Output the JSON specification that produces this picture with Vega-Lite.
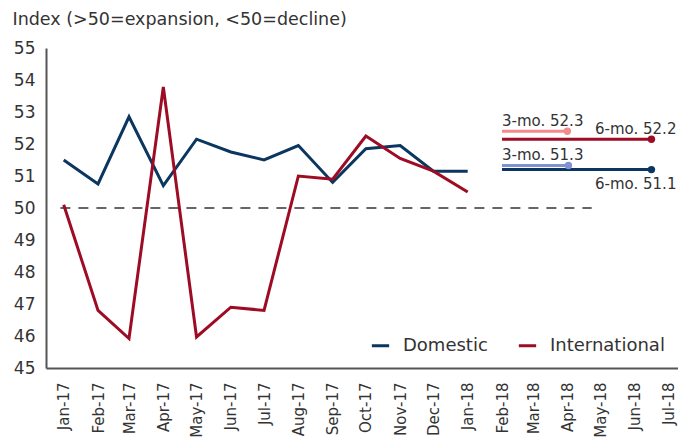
{
  "$schema": "https://vega.github.io/schema/vega-lite/v6.json",
  "width": 632,
  "height": 320,
  "autosize": "none",
  "padding": {"left": 46, "top": 48, "right": 0, "bottom": 72},
  "background": "white",
  "config": {
    "view": {"stroke": null},
    "font": "DejaVu Sans",
    "axis": {"grid": false, "ticks": false, "domainColor": "#555555", "domainWidth": 2, "labelColor": "#333333", "labelFontSize": 16, "labelFont": "DejaVu Sans"}
  },
  "datasets": {
    "series": [
      {"month": "2017-01-01", "series": "Domestic", "value": 51.5},
      {"month": "2017-02-01", "series": "Domestic", "value": 50.75},
      {"month": "2017-03-01", "series": "Domestic", "value": 52.85},
      {"month": "2017-04-01", "series": "Domestic", "value": 50.7},
      {"month": "2017-05-01", "series": "Domestic", "value": 52.15},
      {"month": "2017-06-01", "series": "Domestic", "value": 51.75},
      {"month": "2017-07-01", "series": "Domestic", "value": 51.5},
      {"month": "2017-08-01", "series": "Domestic", "value": 51.95},
      {"month": "2017-09-01", "series": "Domestic", "value": 50.8},
      {"month": "2017-10-01", "series": "Domestic", "value": 51.85},
      {"month": "2017-11-01", "series": "Domestic", "value": 51.95},
      {"month": "2017-12-01", "series": "Domestic", "value": 51.15},
      {"month": "2018-01-01", "series": "Domestic", "value": 51.15},
      {"month": "2017-01-01", "series": "International", "value": 50.1},
      {"month": "2017-02-01", "series": "International", "value": 46.8},
      {"month": "2017-03-01", "series": "International", "value": 45.92},
      {"month": "2017-04-01", "series": "International", "value": 53.78},
      {"month": "2017-05-01", "series": "International", "value": 45.97},
      {"month": "2017-06-01", "series": "International", "value": 46.9},
      {"month": "2017-07-01", "series": "International", "value": 46.8},
      {"month": "2017-08-01", "series": "International", "value": 51.0},
      {"month": "2017-09-01", "series": "International", "value": 50.9},
      {"month": "2017-10-01", "series": "International", "value": 52.25},
      {"month": "2017-11-01", "series": "International", "value": 51.55},
      {"month": "2017-12-01", "series": "International", "value": 51.15},
      {"month": "2018-01-01", "series": "International", "value": 50.5}
    ],
    "reference": [
      {"start": "2016-12-29", "end": "2018-04-23", "value": 50}
    ],
    "averages": [
      {"key": "3-mo Intl", "label": "3-mo. 52.3", "start": "2018-02-01", "end": "2018-04-01", "value": 52.4},
      {"key": "6-mo Intl", "label": "6-mo. 52.2", "start": "2018-02-01", "end": "2018-06-16", "value": 52.15},
      {"key": "3-mo Dom", "label": "3-mo. 51.3", "start": "2018-02-01", "end": "2018-04-02", "value": 51.33},
      {"key": "6-mo Dom", "label": "6-mo. 51.1", "start": "2018-02-01", "end": "2018-06-16", "value": 51.2}
    ]
  },
  "layer": [
    {
      "data": {"name": "reference"},
      "mark": {"type": "rule", "strokeDash": [10, 8], "strokeWidth": 1.5, "color": "#333333"},
      "encoding": {
        "x": {
          "field": "start", "type": "temporal",
          "scale": {"type": "utc", "domain": [{"year": 2016, "month": 12, "date": 16, "utc": true}, {"year": 2018, "month": 7, "date": 10, "utc": true}]},
          "axis": {"title": null, "format": "%b-%y", "labelAngle": 270, "labelPadding": 14, "labelFontSize": 15, "labelOverlap": false, "tickCount": {"interval": "month", "step": 1}}
        },
        "x2": {"field": "end"},
        "y": {
          "field": "value", "type": "quantitative",
          "scale": {"domain": [45, 55], "nice": false, "zero": false},
          "axis": {"tickCount": 11, "format": "d", "labelOverlap": false, "labelBound": false, "labelFontSize": 17, "labelPadding": 11, "title": "Index (>50=expansion, <50=decline)", "titleAngle": 0, "titleAlign": "left", "titleBaseline": "alphabetic", "titleX": -34, "titleY": -24, "titleFontSize": 17.5, "titleFontWeight": "normal", "titleColor": "#333333", "titleFont": "DejaVu Sans"}
        }
      }
    },
    {
      "data": {"name": "series"},
      "mark": {"type": "line", "strokeWidth": 3, "strokeJoin": "miter"},
      "encoding": {
        "x": {"field": "month", "type": "temporal"},
        "y": {"field": "value", "type": "quantitative"},
        "color": {
          "field": "series", "type": "nominal",
          "scale": {"domain": ["Domestic", "International"], "range": ["#0b3660", "#9e0b24"]},
          "legend": {"title": null, "orient": "none", "legendX": 324, "legendY": 287, "direction": "horizontal", "symbolType": "stroke", "symbolStrokeWidth": 3, "symbolSize": 300, "labelFontSize": 18, "labelColor": "#333333", "labelFont": "DejaVu Sans", "columnPadding": 24, "labelOffset": 12}
        }
      }
    },
    {
      "data": {"name": "averages"},
      "mark": {"type": "rule", "strokeWidth": 3},
      "encoding": {
        "x": {"field": "start", "type": "temporal"},
        "x2": {"field": "end"},
        "y": {"field": "value", "type": "quantitative"},
        "stroke": {"field": "key", "type": "nominal", "legend": null,
          "scale": {"domain": ["3-mo Intl", "6-mo Intl", "3-mo Dom", "6-mo Dom"], "range": ["#f28b8b", "#9e0b24", "#7e93d0", "#0b3660"]}}
      }
    },
    {
      "data": {"name": "averages"},
      "mark": {"type": "point", "filled": true, "size": 55, "opacity": 1},
      "encoding": {
        "x": {"field": "end", "type": "temporal"},
        "y": {"field": "value", "type": "quantitative"},
        "fill": {"field": "key", "type": "nominal", "legend": null,
          "scale": {"domain": ["3-mo Intl", "6-mo Intl", "3-mo Dom", "6-mo Dom"], "range": ["#f28b8b", "#9e0b24", "#7e93d0", "#0b3660"]}}
      }
    },
    {
      "data": {"name": "averages"},
      "transform": [{"filter": "indexof(datum.key, '3-mo') === 0"}],
      "mark": {"type": "text", "align": "left", "baseline": "alphabetic", "dy": -5, "fontSize": 15, "color": "#333333"},
      "encoding": {
        "x": {"field": "start", "type": "temporal"},
        "y": {"field": "value", "type": "quantitative"},
        "text": {"field": "label"}
      }
    },
    {
      "data": {"name": "averages"},
      "transform": [{"filter": "datum.key === '6-mo Intl'"}],
      "mark": {"type": "text", "align": "right", "baseline": "alphabetic", "dy": -5, "dx": 25, "fontSize": 15, "color": "#333333"},
      "encoding": {
        "x": {"field": "end", "type": "temporal"},
        "y": {"field": "value", "type": "quantitative"},
        "text": {"field": "label"}
      }
    },
    {
      "data": {"name": "averages"},
      "transform": [{"filter": "datum.key === '6-mo Dom'"}],
      "mark": {"type": "text", "align": "right", "baseline": "alphabetic", "dy": 19, "dx": 25, "fontSize": 15, "color": "#333333"},
      "encoding": {
        "x": {"field": "end", "type": "temporal"},
        "y": {"field": "value", "type": "quantitative"},
        "text": {"field": "label"}
      }
    }
  ]
}
